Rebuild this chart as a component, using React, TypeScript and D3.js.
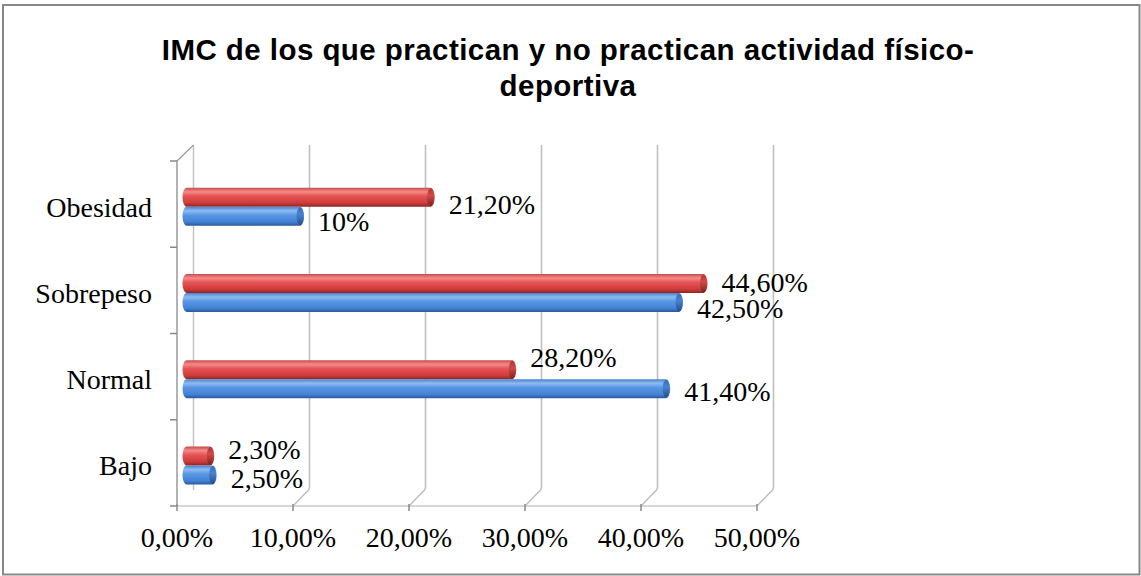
import React from "react";
import * as d3 from "d3";

// ---- data ----
const categories = ["Obesidad", "Sobrepeso", "Normal", "Bajo"];
const redValues = [21.2, 44.6, 28.2, 2.3];
const blueValues = [10, 42.5, 41.4, 2.5];
const redLabels = ["21,20%", "44,60%", "28,20%", "2,30%"];
const blueLabels = ["10%", "42,50%", "41,40%", "2,50%"];
const xTicks = [0, 10, 20, 30, 40, 50];
const titleLines = ["IMC de los que practican y no practican actividad físico-", "deportiva"];

// label placement nudges (layout, not data)
const redLabelDy = [17, 8.5, -3, 3];
const blueLabelDy = [15, 15.5, 12, 13];

const W = 1141;
const H = 576;
const DX = 16.5;
const DY = -16;

const locale = d3.formatLocale({ decimal: ",", thousands: ".", grouping: [3], currency: ["", "€"] });
const fmt = locale.format(".2f");

export default function App() {
  const xFront = d3.scaleLinear().domain([0, 50]).range([177, 757]);
  const xBack = (v: number) => xFront(v) + DX;
  const xBar = d3.scaleLinear().domain([0, 50]).range([184.5, 767.5]);
  const y = d3.scaleBand<string>().domain(categories).range([161, 506]).padding(0);
  const bw = y.bandwidth();
  const frontTop = 161;
  const frontBottom = 506;
  const backTop = frontTop + DY;
  const backBottom = frontBottom + DY;
  const barH = 19;
  const serif = "'Liberation Serif', 'Times New Roman', serif";

  const bars: { v: number; top: number; color: string; label: string; dy: number }[] = [];
  categories.forEach((c, i) => {
    const center = (y(c) as number) + bw / 2 + 2.5;
    bars.push({ v: redValues[i], top: center - barH, color: "red", label: redLabels[i], dy: redLabelDy[i] });
    bars.push({ v: blueValues[i], top: center, color: "blue", label: blueLabels[i], dy: blueLabelDy[i] });
  });

  const edges = [...categories.map((c) => y(c) as number), frontBottom];

  return (
    <svg width={W} height={H} style={{ position: "absolute", left: 0, top: 0, background: "#fff" }}>
      <defs>
        <linearGradient id="gRed" x1="0" y1="0" x2="0" y2="1">
          <stop offset="0%" stopColor="#c84848" />
          <stop offset="22%" stopColor="#f48a8a" />
          <stop offset="45%" stopColor="#e65353" />
          <stop offset="80%" stopColor="#d03c3c" />
          <stop offset="100%" stopColor="#8e2626" />
        </linearGradient>
        <linearGradient id="gBlue" x1="0" y1="0" x2="0" y2="1">
          <stop offset="0%" stopColor="#4a80cc" />
          <stop offset="22%" stopColor="#8cbcf2" />
          <stop offset="45%" stopColor="#5896e4" />
          <stop offset="80%" stopColor="#4482d6" />
          <stop offset="100%" stopColor="#2a5a9e" />
        </linearGradient>
        <linearGradient id="gRedCap" x1="0" y1="0" x2="0" y2="1">
          <stop offset="0%" stopColor="#b03434" />
          <stop offset="40%" stopColor="#d04a4a" />
          <stop offset="100%" stopColor="#7e2020" />
        </linearGradient>
        <linearGradient id="gBlueCap" x1="0" y1="0" x2="0" y2="1">
          <stop offset="0%" stopColor="#3a6cb4" />
          <stop offset="40%" stopColor="#4a82d0" />
          <stop offset="100%" stopColor="#244e8c" />
        </linearGradient>
      </defs>

      {/* outer border */}
      <rect x={3} y={5} width={1136.5} height={569.5} fill="#fff" stroke="#878787" strokeWidth={2} />

      {/* title */}
      <text
        x={568}
        textAnchor="middle"
        fontFamily="'Liberation Sans', Arial, sans-serif"
        fontWeight="bold"
        fontSize={29.5}
        letterSpacing={0.45}
        fill="#000"
      >
        <tspan x={568} y={60}>{titleLines[0]}</tspan>
        <tspan x={568} y={96}>{titleLines[1]}</tspan>
      </text>

      {/* back wall left edge */}
      <line x1={xBack(0)} x2={xBack(0)} y1={backTop} y2={backBottom} stroke="#c4c4c4" strokeWidth={1.5} />

      {/* gridlines on back wall + floor diagonals */}
      {xTicks.slice(1).map((t) => (
        <path
          key={"g" + t}
          d={`M${xBack(t)},${backTop} L${xBack(t)},${backBottom - 3} Q${xBack(t)},${backBottom} ${xBack(t) - 4},${backBottom + 3} L${xFront(t)},${frontBottom}`}
          fill="none"
          stroke="#c0c0c0"
          strokeWidth={1.6}
        />
      ))}

      {/* floor front edge */}
      <line x1={xFront(0)} x2={xFront(50)} y1={frontBottom} y2={frontBottom} stroke="#c8c8c8" strokeWidth={1.6} />
      {/* bottom ticks */}
      {xTicks.map((t) => (
        <line key={"bt" + t} x1={xFront(t)} x2={xFront(t)} y1={frontBottom - 2} y2={frontBottom + 5} stroke="#8a8a8a" strokeWidth={1.5} />
      ))}

      {/* left axis */}
      <line x1={xFront(0)} x2={xFront(0)} y1={frontTop} y2={frontBottom} stroke="#9a9a9a" strokeWidth={1.5} />
      <line x1={xFront(0)} x2={xBack(0)} y1={frontTop} y2={backTop} stroke="#9a9a9a" strokeWidth={1.2} />
      {edges.map((e, i) => (
        <line key={"lt" + i} x1={xFront(0) - 7} x2={xFront(0)} y1={e} y2={e} stroke="#8a8a8a" strokeWidth={1.5} />
      ))}

      {/* bars */}
      {bars.map((b, i) => {
        const x0 = xBar(0) - 2;
        const x1 = xBar(b.v) + 3;
        const isRed = b.color === "red";
        return (
          <g key={"b" + i}>
            <rect
              x={x0}
              y={b.top}
              width={x1 - x0}
              height={barH}
              rx={4}
              ry={barH / 2}
              fill={isRed ? "url(#gRed)" : "url(#gBlue)"}
            />
            <ellipse
              cx={x1 - 4}
              cy={b.top + barH / 2}
              rx={3.5}
              ry={barH / 2 - 0.5}
              fill={isRed ? "url(#gRedCap)" : "url(#gBlueCap)"}
            />
          </g>
        );
      })}

      {/* value labels */}
      {bars.map((b, i) => (
        <text
          key={"vl" + i}
          x={xBar(b.v) + 3 + 14}
          y={b.top + barH / 2 + b.dy}
          fontFamily={serif}
          fontSize={28}
          fill="#000"
        >
          {b.label}
        </text>
      ))}

      {/* category labels */}
      {categories.map((c) => (
        <text
          key={"c" + c}
          x={152}
          y={(y(c) as number) + bw / 2 + 12.5}
          textAnchor="end"
          fontFamily={serif}
          fontSize={28}
          fill="#000"
        >
          {c}
        </text>
      ))}

      {/* x tick labels */}
      {xTicks.map((t) => (
        <text
          key={"xt" + t}
          x={xFront(t)}
          y={547}
          textAnchor="middle"
          fontFamily={serif}
          fontSize={28}
          fill="#000"
        >
          {fmt(t) + "%"}
        </text>
      ))}
    </svg>
  );
}
